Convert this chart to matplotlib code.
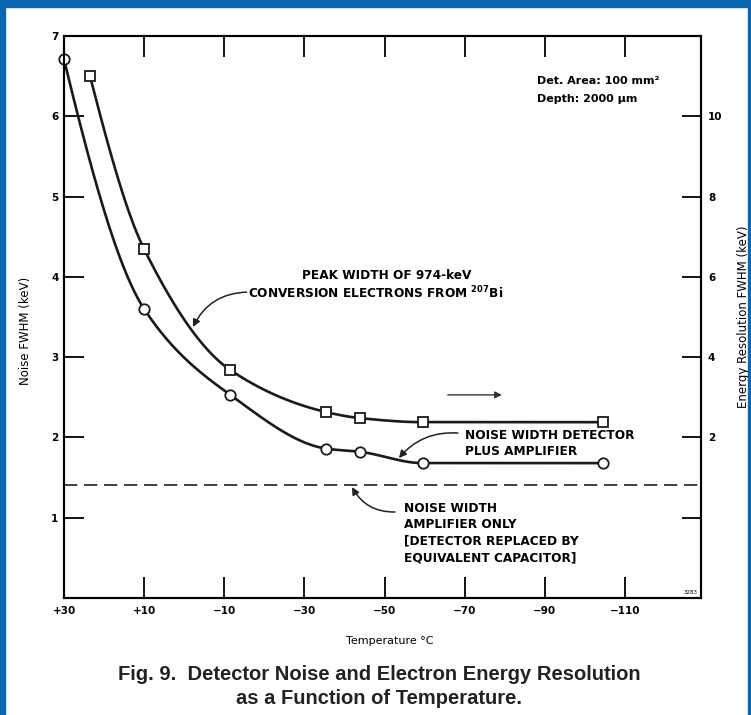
import numpy as np
import matplotlib
matplotlib.use('Agg')
import matplotlib.pyplot as plt
from matplotlib.patches import Rectangle

plt.rcParams['font.family'] = ['DejaVu Sans']
plt.rcParams['font.weight'] = 'bold'
plt.rcParams['mathtext.default'] = 'bf'

# noise width, detector plus amplifier (left axis, keV)
temp_noise = [30, 10, -11.5, -35.5, -44, -59.5, -104.5]
noise_fwhm = [6.71, 3.60, 2.53, 1.86, 1.82, 1.68, 1.68]

# peak width of 974-keV conversion electrons (right axis, keV)
temp_peak = [23.5, 10, -11.5, -35.5, -44, -59.5, -104.5]
peak_fwhm = [11.0, 6.69, 3.68, 2.63, 2.48, 2.38, 2.38]

# amplifier alone (detector replaced by capacitor)
amp_only = 1.41

temp_ticks = [30, 10, -10, -30, -50, -70, -90, -110]
temp_labels = ['+30', '+10', '\u221210', '\u221230', '\u221250', '\u221270', '\u221290', '\u2212110']
noise_ticks = [1, 2, 3, 4, 5, 6, 7]
res_ticks = [0, 2, 4, 6, 8, 10]
res_labels = ['', '2', '4', '6', '8', '10']


def smooth(x, y, n=300):
    # monotone cubic (pchip) through the points, for drawing the curve
    x = np.asarray(x, float)[::-1]
    y = np.asarray(y, float)[::-1]
    h = np.diff(x)
    d = np.diff(y) / h
    m = np.zeros_like(y)
    for k in range(1, len(x) - 1):
        if d[k - 1] * d[k] > 0:
            w1 = 2 * h[k] + h[k - 1]
            w2 = h[k] + 2 * h[k - 1]
            m[k] = (w1 + w2) / (w1 / d[k - 1] + w2 / d[k])
    m[0] = d[0]
    me = ((2 * h[-1] + h[-2]) * d[-1] - h[-1] * d[-2]) / (h[-1] + h[-2])
    m[-1] = me if np.sign(me) == np.sign(d[-1]) else 0
    xs = np.linspace(x[0], x[-1], n)
    idx = np.clip(np.searchsorted(x, xs) - 1, 0, len(h) - 1)
    t = (xs - x[idx]) / h[idx]
    h00 = 2 * t**3 - 3 * t**2 + 1
    h10 = t**3 - 2 * t**2 + t
    h01 = -2 * t**3 + 3 * t**2
    h11 = t**3 - t**2
    ys = h00 * y[idx] + h10 * h[idx] * m[idx] + h01 * y[idx + 1] + h11 * h[idx] * m[idx + 1]
    return xs, ys


fig = plt.figure(figsize=(7.51, 7.15), dpi=100)
fig.patch.set_facecolor('white')
blue = '#0b65b0'
fig.patches.append(Rectangle((0, 0.9902), 1, 0.0098, transform=fig.transFigure, color=blue, zorder=0))
fig.patches.append(Rectangle((0, 0), 0.0067, 1, transform=fig.transFigure, color=blue, zorder=0))
fig.patches.append(Rectangle((0.996, 0), 0.004, 1, transform=fig.transFigure, color=blue, zorder=0))

ax = fig.add_axes([64 / 751, 1 - 598 / 715, 637 / 751, 562 / 715])
ax2 = ax.twinx()

ax.set_xlim(30, -129)
ax.set_ylim(0, 7)
ax2.set_ylim(-2, 12)

for a in (ax, ax2):
    for s in a.spines.values():
        s.set_linewidth(1.5)

ax.set_xticks(temp_ticks)
ax.set_xticklabels(temp_labels)
ax.set_yticks(noise_ticks)
ax.tick_params(axis='x', direction='in', length=15, width=1.3, top=True, pad=6, labelsize=7.5)
ax.tick_params(axis='y', direction='in', length=14.5, width=1.3, pad=4, labelsize=7.5)
ax2.set_yticks(res_ticks)
ax2.set_yticklabels(res_labels)
ax2.tick_params(axis='y', direction='in', length=14, width=1.3, pad=5, labelsize=7.5)

# curves
xs, ys = smooth(temp_noise, noise_fwhm)
ax.plot(xs, ys, color='#1a1a1a', lw=1.9, zorder=3)
ax.plot(temp_noise, noise_fwhm, 'o', ms=7.5, mfc='white', mec='#1a1a1a', mew=1.3,
        zorder=4, clip_on=False)

xs, ys = smooth(temp_peak, peak_fwhm)
ax2.plot(xs, ys, color='#1a1a1a', lw=1.9, zorder=3)
ax2.plot(temp_peak, peak_fwhm, 's', ms=7.5, mfc='white', mec='#1a1a1a', mew=1.3,
         zorder=4, clip_on=False)

ax.axhline(amp_only, color='#222222', lw=1.2, dashes=(8, 4))

# labels
ax.set_ylabel('Noise FWHM (keV)', fontsize=8.5)
ax.yaxis.set_label_coords(-0.050, 0.475)
ax2.set_ylabel('Energy Resolution FWHM (keV)', fontsize=8.5)
ax2.yaxis.set_label_coords(1.0565, 0.50)
ax.set_xlabel('Temperature \u00b0C', fontsize=8)
ax.xaxis.set_label_coords(0.512, -0.068)

ax.text(-88.0, 6.44, 'Det. Area: 100 mm\u00b2', fontsize=8, va='center', ha='left')
ax.text(-88.0, 6.21, 'Depth: 2000 \u03bcm', fontsize=8, va='center', ha='left')

ax.text(-50.6, 4.02, 'PEAK WIDTH OF 974-keV', fontsize=8.7, ha='center', va='center')
ax.text(-47.9, 3.80, r'CONVERSION ELECTRONS FROM $^{207}$Bi', fontsize=8.7,
        ha='center', va='center')
ax.annotate('', xy=(-2.2, 3.375), xytext=(-15.6, 3.81),
            arrowprops=dict(arrowstyle='-|>', lw=1.1, color='#222222', mutation_scale=11,
                            connectionstyle='arc3,rad=0.3', shrinkA=0, shrinkB=0))

ax.text(-70.1, 2.03, 'NOISE WIDTH DETECTOR', fontsize=8.7, ha='left', va='center')
ax.text(-70.1, 1.83, 'PLUS AMPLIFIER', fontsize=8.7, ha='left', va='center')
ax.annotate('', xy=(-53.6, 1.743), xytext=(-68.3, 2.055),
            arrowprops=dict(arrowstyle='-|>', lw=1.1, color='#222222', mutation_scale=11,
                            connectionstyle='arc3,rad=0.25', shrinkA=0, shrinkB=0))

amp_lines = ['NOISE WIDTH', 'AMPLIFIER ONLY', '[DETECTOR REPLACED BY', 'EQUIVALENT CAPACITOR]']
for i, line in enumerate(amp_lines):
    ax.text(-54.85, 1.12 - i * 0.205, line, fontsize=8.7, ha='left', va='center')
ax.annotate('', xy=(-41.9, 1.382), xytext=(-52.6, 1.071),
            arrowprops=dict(arrowstyle='-|>', lw=1.1, color='#222222', mutation_scale=11,
                            connectionstyle='arc3,rad=-0.3', shrinkA=0, shrinkB=0))

ax.annotate('', xy=(-79.3, 2.53), xytext=(-65.8, 2.53),
            arrowprops=dict(arrowstyle='-|>', lw=1.0, color='#333333', mutation_scale=10,
                            shrinkA=0, shrinkB=0))

ax.text(-126.5, 0.07, '3283', fontsize=4, ha='center', va='center', fontweight='normal')

cap = dict(fontsize=14.5, ha='center', va='center', color='#222222',
           family=['Liberation Sans', 'DejaVu Sans'])
fig.text(379 / 751, 1 - 675 / 715, 'Fig. 9.  Detector Noise and Electron Energy Resolution', **cap)
fig.text(379 / 751, 1 - 699 / 715, 'as a Function of Temperature.', **cap)

fig.savefig('out.png', dpi=100)
